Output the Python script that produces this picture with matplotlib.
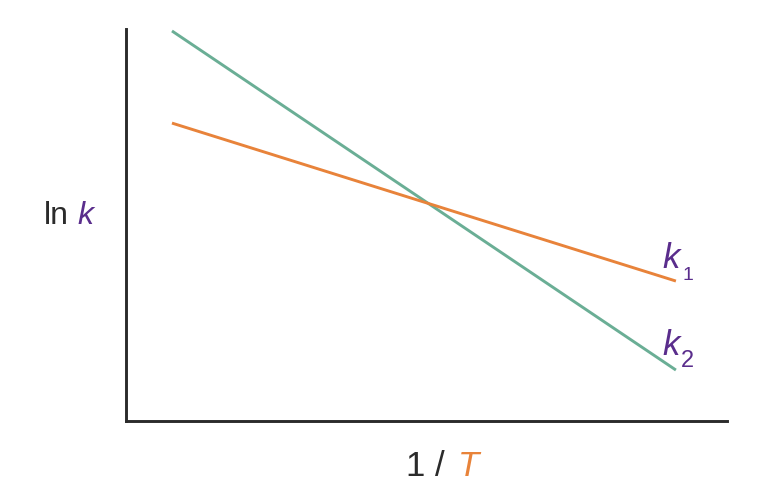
import matplotlib.pyplot as plt

plt.rcParams['font.family'] = ['Liberation Sans', 'DejaVu Sans']

# line end points, in arbitrary units (x: 1/T, y: ln k)
inv_t = [0.0765, 0.915]
ln_k1 = [0.760, 0.357]
ln_k2 = [0.995, 0.130]

green = '#6aae95'
orange = '#e8833a'
purple = '#5a2d8c'
axis_col = '#2b2b2b'

fig = plt.figure(figsize=(7.62, 5.04), dpi=100)
W, H = 762, 504
ax = fig.add_axes([126 / W, 83 / H, (727 - 126) / W, (421 - 29) / H])

ax.plot(inv_t, ln_k2, color=green, lw=2.1, solid_capstyle='butt')
ax.plot(inv_t, ln_k1, color=orange, lw=2.1, solid_capstyle='butt')

ax.set_xlim(0, 1)
ax.set_ylim(0, 1)
ax.set_xticks([])
ax.set_yticks([])
for side in ['top', 'right']:
    ax.spines[side].set_visible(False)
for side in ['left', 'bottom']:
    ax.spines[side].set_color(axis_col)
    ax.spines[side].set_linewidth(2.1)

# line labels
fig.text(662 / W, 1 - 268 / H, 'k', color=purple, fontsize=25, style='italic', va='baseline')
fig.text(683 / W, 1 - 280 / H, '1', color=purple, fontsize=14, va='baseline')
fig.text(662 / W, 1 - 355 / H, 'k', color=purple, fontsize=25, style='italic', va='baseline')
fig.text(681 / W, 1 - 367 / H, '2', color=purple, fontsize=17, va='baseline')

# axis labels
fig.text(44 / W, 1 - 224 / H, 'ln', color=axis_col, fontsize=23, va='baseline')
fig.text(77 / W, 1 - 224 / H, 'k', color=purple, fontsize=23, style='italic', va='baseline')
fig.text(406 / W, 1 - 476 / H, '1 /', color=axis_col, fontsize=25, va='baseline')
fig.text(458 / W, 1 - 476 / H, 'T', color=orange, fontsize=25, style='italic', va='baseline')

fig.savefig('out.png', dpi=100)
